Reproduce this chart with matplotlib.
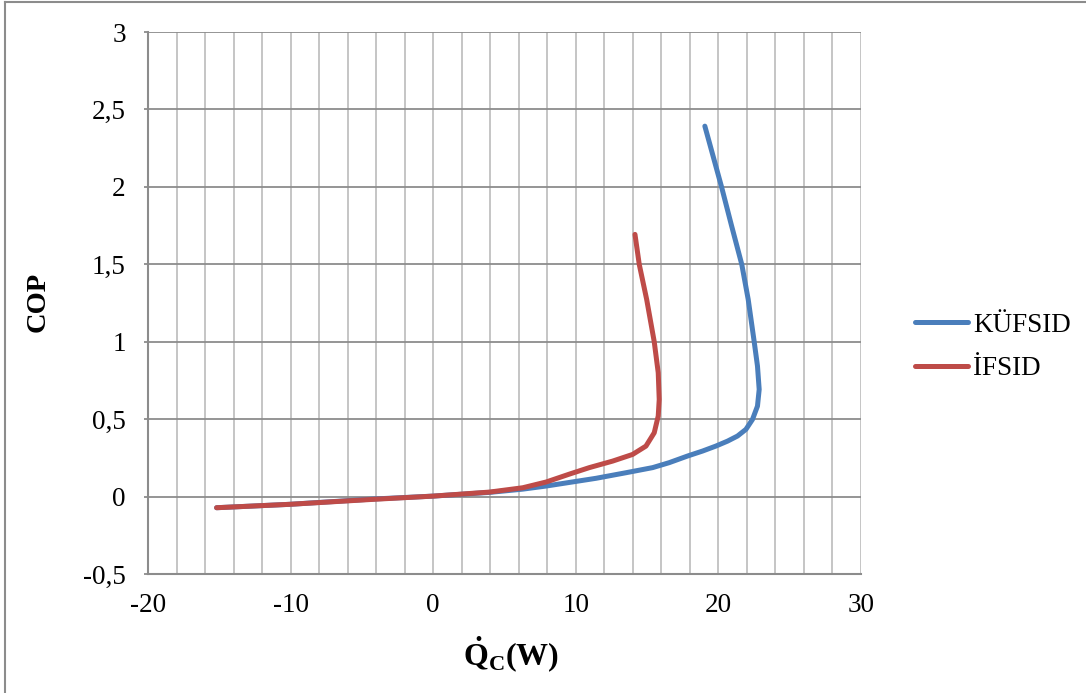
import matplotlib
matplotlib.use("Agg")
import matplotlib.pyplot as plt
from matplotlib.lines import Line2D

plt.rcParams['font.family'] = ['Liberation Serif', 'DejaVu Serif']
plt.rcParams['mathtext.fontset'] = 'custom'
plt.rcParams['mathtext.rm'] = 'Liberation Serif'
plt.rcParams['mathtext.bf'] = 'Liberation Serif:bold'
plt.rcParams['mathtext.it'] = 'Liberation Serif:italic'

# Cooling capacity (W) and COP for the two configurations
kufsid_q = [-15.19, -10.06, -4.22, 0.0, 3.95, 6.28, 7.92, 9.32, 11.42, 13.52, 15.39, 16.55,
            17.84, 18.89, 19.82, 20.64, 21.34, 21.93, 22.39, 22.74, 22.86, 22.74, 22.51,
            22.09, 21.64, 20.92, 20.22, 19.05]
kufsid_cop = [-0.072, -0.05, -0.016, 0.003, 0.027, 0.048, 0.068, 0.088, 0.118, 0.154, 0.187,
              0.219, 0.262, 0.294, 0.326, 0.358, 0.391, 0.434, 0.498, 0.584, 0.692, 0.843,
              1.0, 1.273, 1.499, 1.75, 2.0, 2.392]

ifsid_q = [-15.19, -10.06, -4.22, 0.0, 3.95, 6.28, 7.92, 9.55, 10.95, 12.58, 13.98, 14.92,
           15.5, 15.78, 15.85, 15.78, 15.5, 14.97, 14.45, 14.15]
ifsid_cop = [-0.072, -0.05, -0.018, 0.003, 0.029, 0.057, 0.094, 0.145, 0.187, 0.229, 0.272,
             0.326, 0.412, 0.52, 0.627, 0.8, 1.0, 1.273, 1.499, 1.693]

series_names = ['KÜFSID', 'İFSID']
series_colors = ['#4a7ebb', '#be4b48']

x_ticks = [-20, -10, 0, 10, 20, 30]
y_ticks = [-0.5, 0, 0.5, 1, 1.5, 2, 2.5, 3]
y_tick_labels = ['-0,5', '0', '0,5', '1', '1,5', '2', '2,5', '3']

fig = plt.figure(figsize=(10.86, 6.93), dpi=100)
ax = fig.add_axes([148 / 1086, 1 - 574 / 693, 713 / 1086, 542 / 693])

# vertical grid every 2 W, horizontal grid at each y tick
for gx in range(-18, 31, 2):
    ax.axvline(gx, color='#c0c0c0', lw=1.3, zorder=0)
for gy in y_ticks[1:]:
    ax.axhline(gy, color='#8c8c8c', lw=1.3, zorder=0)

ax.plot(kufsid_q, kufsid_cop, color=series_colors[0], lw=3.6,
        solid_capstyle='round', solid_joinstyle='round', zorder=3)
ax.plot(ifsid_q, ifsid_cop, color=series_colors[1], lw=3.6,
        solid_capstyle='round', solid_joinstyle='round', zorder=4)

ax.set_xlim(-20, 30)
ax.set_ylim(-0.5, 3)
ax.set_xticks(x_ticks)
ax.set_xticklabels([str(v) for v in x_ticks])
ax.set_yticks(y_ticks)
ax.set_yticklabels(y_tick_labels)
ax.tick_params(axis='x', length=0, labelsize=19.5, pad=14)
ax.tick_params(axis='y', length=3, width=1.3, color='#8c8c8c', labelsize=19.5, pad=13)

for side in ['top', 'right']:
    ax.spines[side].set_visible(False)
for side in ['left', 'bottom']:
    ax.spines[side].set_color('#8c8c8c')
    ax.spines[side].set_linewidth(1.5)

fig.text(38 / 1086, 1 - 302 / 693, 'COP', rotation=90, fontsize=20.5, fontweight='bold',
         ha='center', va='center')
fig.text(511 / 1086, 1 - 655 / 693, r'$\mathbf{\dot{Q}_C(W)}$', fontsize=23,
         ha='center', va='center')

handles = [Line2D([], [], color=c, lw=3.6, solid_capstyle='round') for c in series_colors]
fig.legend(handles, series_names, loc='center left', frameon=False,
           bbox_to_anchor=(915 / 1086, 1 - 347 / 693), fontsize=19.5,
           handlelength=1.95, handletextpad=0.2, labelspacing=0.67,
           borderpad=0, borderaxespad=0)

# outer frame lines
fig.add_artist(Line2D([5 / 1086, 5 / 1086], [0, 1 - 2 / 693], color='#8c8c8c', lw=1.5,
                      transform=fig.transFigure))
fig.add_artist(Line2D([5 / 1086, 1], [1 - 2 / 693, 1 - 2 / 693], color='#8c8c8c', lw=1.5,
                      transform=fig.transFigure))

fig.savefig('out.png', dpi=100)
